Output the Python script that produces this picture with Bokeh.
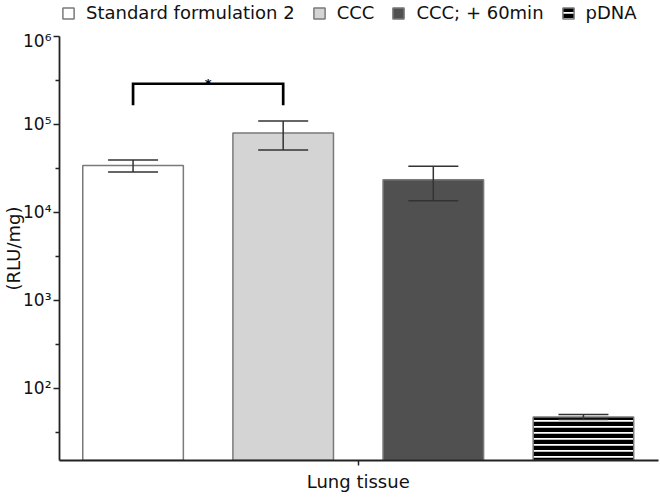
from bokeh.plotting import figure
from bokeh.layouts import column
from bokeh.models import (ColumnDataSource, Range1d, FixedTicker, Whisker, TeeHead,
                          Legend, LegendItem)
from bokeh.core.properties import value
from bokeh.embed import file_html
from bokeh.resources import INLINE

# ---- data ----
categories = ["Standard formulation 2", "CCC", "CCC; + 60min", "pDNA"]
means = [34000, 80000, 23500, 47]
errors = [5300, 29000, 10000, 3]
fill_colors = ["#ffffff", "#d4d4d4", "#505050", "#ffffff"]
hatches = [" ", " ", " ", "horizontal_line"]

y_major_ticks = [100, 1000, 10000, 100000, 1000000]
y_tick_labels = ["10²", "10³", "10⁴", "10⁵", "10⁶"]
y_minor_ticks = [31.6, 316, 3162, 31623, 316228]
x_group_label = "Lung tissue"
y_label = "(RLU/mg)"

# significance bracket between bar 0 and bar 1
sig_pair = (0, 1)
sig_top = 2.9e5
sig_leg = 1.65e5
sig_text = "*"

FONT = "DejaVu Sans"
TXT = "#111111"
W = 659

xs = list(range(len(categories)))
src = ColumnDataSource(dict(
    x=xs, top=means, fill=fill_colors, hatch=hatches, cat=categories,
    upper=[m + e for m, e in zip(means, errors)],
    lower=[m - e for m, e in zip(means, errors)],
))

bar_style = dict(width=0.67, fill_color="fill", line_color="#7a7a7a", line_width=1.5,
                 hatch_pattern="hatch", hatch_color="#000000", hatch_scale=6,
                 hatch_weight=4.5)

# ---------------- main chart ----------------
p = figure(width=W, height=464, x_range=Range1d(-0.49, len(categories) - 0.5),
           y_range=Range1d(15, 1e6), y_axis_type="log",
           output_backend="svg", toolbar_location=None,
           min_border_left=59, min_border_right=1, min_border_top=6, min_border_bottom=33)
p.outline_line_color = None
p.xgrid.visible = False
p.ygrid.visible = False

bars = p.vbar(x="x", top="top", bottom=15, source=src, **bar_style)

whisk = Whisker(source=src, base="x", upper="upper", lower="lower", dimension="height",
                line_color="#333333", line_width=1.5, level="overlay",
                upper_head=TeeHead(size=50, line_color="#333333", line_width=1.5),
                lower_head=TeeHead(size=50, line_color="#333333", line_width=1.5))
p.add_layout(whisk)

# significance bracket
a, b = sig_pair
p.line(x=[xs[a], xs[a], xs[b], xs[b]], y=[sig_leg, sig_top, sig_top, sig_leg],
       line_color="black", line_width=2.7, line_join="miter")
p.text(x=[(xs[a] + xs[b]) / 2], y=[sig_top], text=[sig_text], text_align="center",
       text_baseline="alphabetic", text_font=value(FONT), text_font_size="13px",
       text_font_style="bold", text_color="black")

# axes
yax = p.yaxis[0]
yax.ticker = FixedTicker(ticks=y_major_ticks, minor_ticks=y_minor_ticks)
yax.major_label_overrides = {t: l for t, l in zip(y_major_ticks, y_tick_labels)}
yax.major_label_text_font = FONT
yax.major_label_text_font_size = "17px"
yax.major_label_text_color = TXT
yax.major_label_standoff = 2
yax.major_tick_out = 6
yax.major_tick_in = 0
yax.minor_tick_out = 4
yax.minor_tick_in = 0
yax.axis_line_color = "#222222"
yax.axis_line_width = 1.8
yax.major_tick_line_color = "#222222"
yax.major_tick_line_width = 1.5
yax.minor_tick_line_color = "#222222"
yax.minor_tick_line_width = 1.5
yax.axis_label = y_label
yax.axis_label_text_font = FONT
yax.axis_label_text_font_size = "18px"
yax.axis_label_text_font_style = "normal"
yax.axis_label_text_color = TXT
yax.axis_label_standoff = -4

xax = p.xaxis[0]
center = (xs[0] + xs[-1]) / 2
xax.ticker = FixedTicker(ticks=[center])
xax.major_label_overrides = {center: x_group_label}
xax.major_label_text_font = FONT
xax.major_label_text_font_size = "18px"
xax.major_label_text_color = TXT
xax.major_label_standoff = 5
xax.major_tick_out = 5
xax.major_tick_in = 0
xax.minor_tick_out = 0
xax.axis_line_color = "#222222"
xax.axis_line_width = 1.8
xax.major_tick_line_color = "#222222"
xax.major_tick_line_width = 1.5

# ---------------- legend strip ----------------
lf = figure(width=W, height=30, x_range=Range1d(-0.49, len(categories) - 0.5),
            y_range=Range1d(0, 1),
            x_axis_location=None, y_axis_location=None,
            output_backend="svg", toolbar_location=None,
            min_border_left=59, min_border_right=1, min_border_top=0, min_border_bottom=0)
lf.grid.visible = False
lf.outline_line_color = None
proxy = lf.vbar(x="x", top="top", bottom=0, source=src, **bar_style)
proxy.visible = False

legend = Legend(items=[LegendItem(label=c, renderers=[proxy], index=i)
                       for i, c in enumerate(categories)],
                orientation="horizontal", location=(2, 7),
                glyph_width=14, glyph_height=14, label_standoff=11, spacing=17,
                padding=0, margin=0, border_line_color=None, background_fill_alpha=0,
                inactive_fill_alpha=0,
                label_text_font=FONT, label_text_font_size="18px", label_text_color=TXT)
lf.add_layout(legend)

layout = column(lf, p, spacing=0)
open("out.html", "w").write(file_html(layout, INLINE))
